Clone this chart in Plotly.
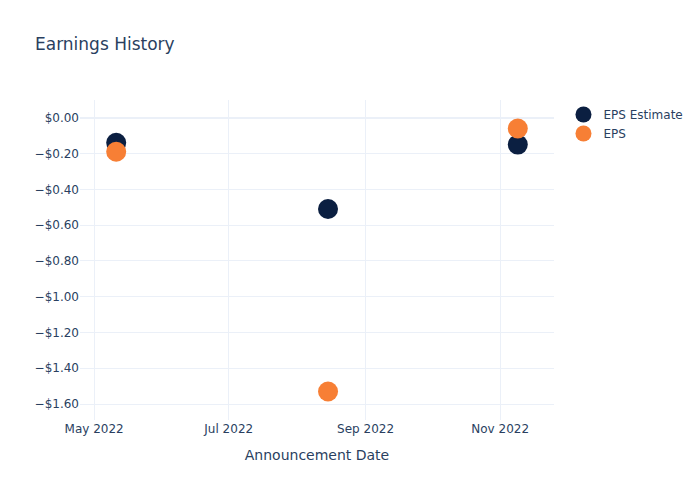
import plotly.graph_objects as go

dates = ["2022-05-11", "2022-08-15", "2022-11-09"]
eps_estimate = [-0.14, -0.51, -0.15]
eps_actual = [-0.19, -1.53, -0.06]

fig = go.Figure()
fig.add_trace(go.Scatter(x=dates, y=eps_estimate, mode="markers", name="EPS Estimate",
                         marker=dict(color="#0b1f41", size=20)))
fig.add_trace(go.Scatter(x=dates, y=eps_actual, mode="markers", name="EPS",
                         marker=dict(color="#f77f35", size=20)))
fig.update_layout(
    template="plotly_white",
    width=700, height=500,
    font=dict(family="DejaVu Sans"),
    title=dict(text="Earnings History"),
    xaxis=dict(title=dict(text="Announcement Date")),
    yaxis=dict(tickformat="$.2f"),
)
fig.write_html("out.html")
